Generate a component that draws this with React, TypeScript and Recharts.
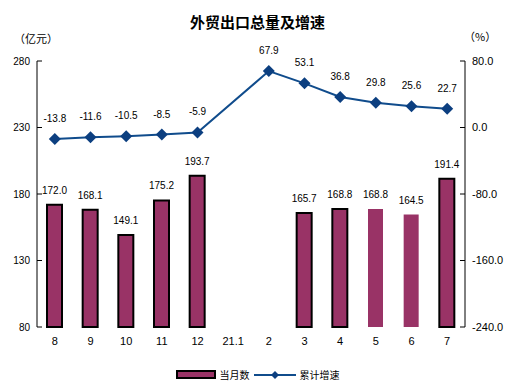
import React from 'react';
import {
  ComposedChart, Bar, Line, XAxis, YAxis, LabelList, Legend, Cell,
} from 'recharts';

const months = ['8', '9', '10', '11', '12', '21.1', '2', '3', '4', '5', '6', '7'];
const monthly = [172.0, 168.1, 149.1, 175.2, 193.7, null, null, 165.7, 168.8, 168.8, 164.5, 191.4];
const growth = [-13.8, -11.6, -10.5, -8.5, -5.9, null, 67.9, 53.1, 36.8, 29.8, 25.6, 22.7];
const outlined = [true, true, true, true, true, true, true, true, true, false, false, true];
const leftTicks = [80, 130, 180, 230, 280];
const rightTicks = [-240, -160, -80, 0, 80];
const boundaryTicks = [0, 1, 2, 3, 4, 5, 6, 7, 8, 9, 10, 11, 12];

const data = months.map((m, i) => ({ m, idx: i + 0.5, monthly: monthly[i], growth: growth[i] }));

const BAR = '#993366';
const LINE = '#104c8c';
const FONT = '"Liberation Sans", Arial, "Noto Sans CJK SC", sans-serif';
const CJK = '"Noto Sans CJK SC", sans-serif';

const Diamond = (props: any) => {
  const { cx, cy, value } = props;
  if (value == null || cx == null || cy == null) return null;
  const r = 6;
  return <path d={`M${cx},${cy - r}L${cx + r},${cy}L${cx},${cy + r}L${cx - r},${cy}Z`} fill="#0c3f80" />;
};

const LegendContent = () => (
  <div style={{ display: 'flex', justifyContent: 'center', alignItems: 'center', fontFamily: CJK, fontSize: 10, color: '#000' }}>
    <svg width={40} height={10}>
      <rect x={1} y={1} width={38} height={7} fill={BAR} stroke="#000" strokeWidth={2} />
    </svg>
    <span style={{ marginLeft: 4, marginRight: 4 }}>当月数</span>
    <svg width={42} height={10}>
      <line x1={0} y1={5} x2={42} y2={5} stroke={LINE} strokeWidth={2} />
      <path d="M21,1L25,5L21,9L17,5Z" fill="#0c3f80" />
    </svg>
    <span style={{ marginLeft: 4 }}>累计增速</span>
  </div>
);

export default function App() {
  return (
    <div style={{ position: 'absolute', left: 0, top: 0, width: 515, height: 391, background: '#fff' }}>
      <div style={{ position: 'absolute', top: 11, width: 515, textAlign: 'center', fontFamily: CJK, fontWeight: 'bold', fontSize: 15 }}>
        外贸出口总量及增速
      </div>
      <div style={{ position: 'absolute', left: 14, top: 30, fontFamily: CJK, fontSize: 11 }}>（亿元）</div>
      <div style={{ position: 'absolute', left: 464, top: 28, fontFamily: CJK, fontSize: 11 }}>（%）</div>
      <ComposedChart
        width={515}
        height={391}
        data={data}
        margin={{ top: 61, right: 0, bottom: 34, left: 0 }}
      >
        <XAxis
          dataKey="m"
          xAxisId="cat"
          axisLine={false}
          tickLine={false}
          interval={0}
          height={30}
          tickMargin={4}
          tick={{ fontSize: 11, fill: '#000', fontFamily: FONT }}
        />
        <XAxis
          xAxisId="b"
          type="number"
          dataKey="idx"
          domain={[0, 12]}
          ticks={boundaryTicks}
          tick={false}
          tickSize={-5}
          stroke="#000"
          height={0}
        />
        <YAxis
          yAxisId="l"
          orientation="left"
          width={37}
          domain={[80, 280]}
          ticks={leftTicks}
          tickSize={-5}
          tickMargin={12}
          stroke="#000"
          tick={{ fontSize: 10, fill: '#000', fontFamily: FONT }}
        />
        <YAxis
          yAxisId="r"
          orientation="right"
          width={50}
          domain={[-240, 80]}
          ticks={rightTicks}
          tickSize={-5}
          tickMargin={12}
          stroke="#000"
          tickFormatter={(v: number) => v.toFixed(1)}
          tick={{ fontSize: 11, fill: '#000', fontFamily: FONT }}
        />
        <Bar dataKey="monthly" xAxisId="cat" yAxisId="l" barSize={15} isAnimationActive={false}>
          {data.map((d, i) => (
            <Cell key={d.m} fill={BAR} stroke={outlined[i] ? '#000' : 'none'} strokeWidth={2} />
          ))}
          <LabelList dataKey="monthly" position="top" offset={11} style={{ fontSize: 10, fill: '#000', fontFamily: FONT }}
            formatter={(v: any) => (v == null ? '' : Number(v).toFixed(1))} />
        </Bar>
        <Line
          dataKey="growth"
          xAxisId="cat"
          yAxisId="r"
          stroke={LINE}
          strokeWidth={2}
          connectNulls
          dot={<Diamond />}
          activeDot={false}
          isAnimationActive={false}
        >
          <LabelList dataKey="growth" position="top" offset={17} style={{ fontSize: 10, fill: '#000', fontFamily: FONT }}
            formatter={(v: any) => (v == null ? '' : Number(v).toFixed(1))} />
        </Line>
        <Legend
          layout="horizontal"
          verticalAlign="middle"
          align="center"
          content={<LegendContent />}
          wrapperStyle={{ position: 'absolute', top: 367, left: 0, width: 515 }}
        />
      </ComposedChart>
    </div>
  );
}
